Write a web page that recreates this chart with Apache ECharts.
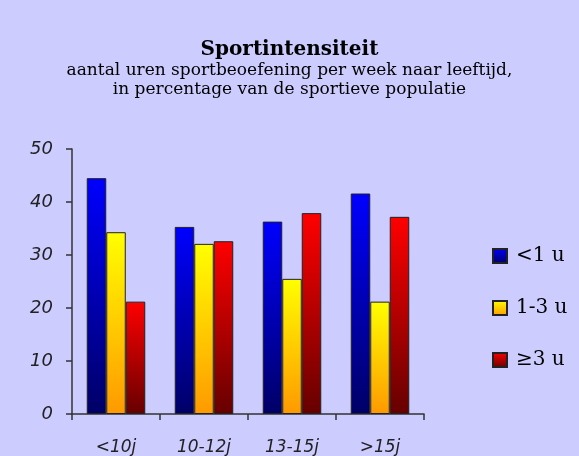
<!DOCTYPE html>
<html>
<head>
<meta charset="utf-8">
<script src="https://cdn.jsdelivr.net/npm/echarts@6/dist/echarts.min.js"></script>
<style>
    html, body { margin: 0; padding: 0; background: #ccccff; }
    #chart { width: 579px; height: 456px; }
</style>
</head>
<body>
<div id="chart"></div>
<script>
// leeftijdscategorieën
const categories = ['<10j', '10-12j', '13-15j', '>15j'];
const seriesNames = ['<1 u', '1-3 u', '≥3 u'];
// percentages per reeks
const lessThan1 = [44.5, 35.3, 36.3, 41.6];
const oneToThree = [34.3, 32.1, 25.5, 21.2];
const threeOrMore = [21.2, 32.6, 37.9, 37.2];
const yTicks = [0, 10, 20, 30, 40, 50];

const serif = '"DejaVu Serif", serif';
const axisFont = '"DejaVu Sans", sans-serif';

function grad(top, bottom) {
    return new echarts.graphic.LinearGradient(0, 0, 0, 1, [
        { offset: 0, color: top },
        { offset: 1, color: bottom }
    ]);
}

const colors = [
    ['#0000ff', '#000066'],
    ['#ffff00', '#ff9900'],
    ['#ff0000', '#660000']
];

const chart = echarts.init(document.getElementById('chart'));

const makeSeries = (name, data, i) => ({
    name: name,
    type: 'bar',
    data: data,
    barWidth: 19.5,
    barGap: '0%',
    itemStyle: {
        color: grad(colors[i][0], colors[i][1]),
        borderColor: '#222222',
        borderWidth: 1
    },
    emphasis: { disabled: true }
});

chart.setOption({
    backgroundColor: '#ccccff',
    animation: false,
    title: {
        text: 'Sportintensiteit',
        subtext: 'aantal uren sportbeoefening per week naar leeftijd,\nin percentage van de sportieve populatie',
        left: 'center',
        top: 35,
        itemGap: 1,
        textStyle: {
            fontFamily: serif,
            fontWeight: 'bold',
            fontSize: 20,
            lineHeight: 20,
            color: '#000000'
        },
        subtextStyle: {
            fontFamily: serif,
            fontSize: 17,
            lineHeight: 19,
            color: '#000000'
        }
    },
    legend: {
        orient: 'vertical',
        left: 487,
        top: 241,
        padding: 5,
        itemWidth: 14,
        itemHeight: 14,
        itemGap: 32,
        icon: 'rect',
        textStyle: {
            fontFamily: serif,
            fontSize: 20,
            lineHeight: 14,
            color: '#000000',
            padding: [0, 0, 0, 4]
        }
    },
    grid: {
        left: 72,
        right: 155,
        top: 149,
        bottom: 42,
        containLabel: false
    },
    xAxis: {
        type: 'category',
        data: categories,
        axisLine: { lineStyle: { color: '#333333', width: 1.5 } },
        axisTick: { show: true, length: 6, inside: false, lineStyle: { color: '#333333', width: 1.5 } },
        axisLabel: {
            fontFamily: axisFont,
            fontStyle: 'italic',
            fontSize: 17,
            color: '#222222',
            margin: 25
        }
    },
    yAxis: {
        type: 'value',
        min: yTicks[0],
        max: yTicks[yTicks.length - 1],
        interval: 10,
        splitLine: { show: false },
        axisLine: { show: true, lineStyle: { color: '#333333', width: 1.5 } },
        axisTick: { show: true, length: 6, lineStyle: { color: '#333333', width: 1.5 } },
        axisLabel: {
            fontFamily: axisFont,
            fontStyle: 'italic',
            fontSize: 18,
            color: '#222222',
            margin: 19
        }
    },
    series: [
        makeSeries(seriesNames[0], lessThan1, 0),
        makeSeries(seriesNames[1], oneToThree, 1),
        makeSeries(seriesNames[2], threeOrMore, 2)
    ]
});
</script>
</body>
</html>
